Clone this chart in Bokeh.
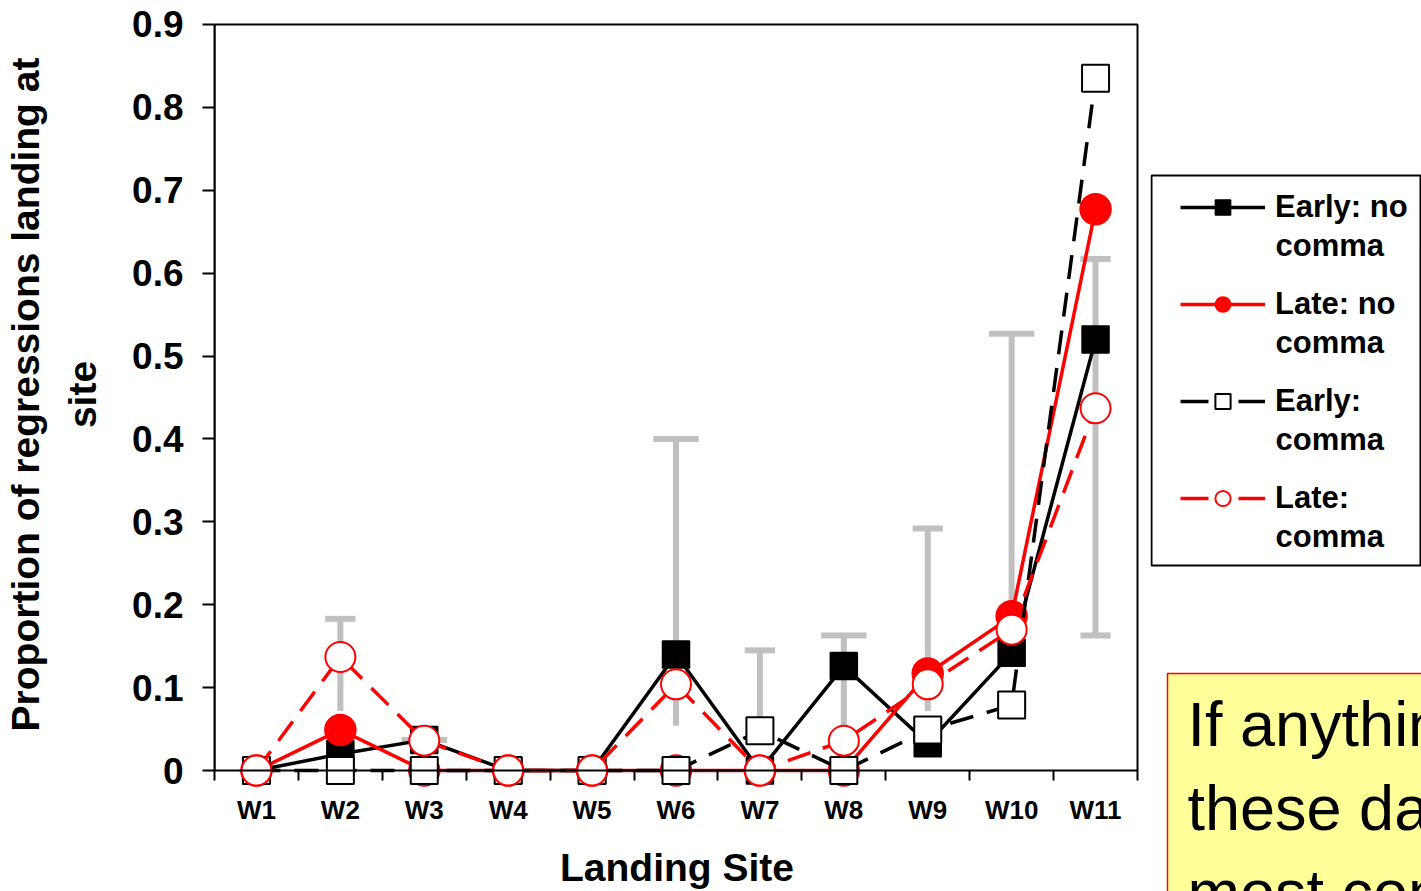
from bokeh.plotting import figure
from bokeh.layouts import row
from bokeh.models import (Range1d, FixedTicker, Legend, LegendItem, Label, BoxAnnotation)
from bokeh.embed import file_html
from bokeh.resources import INLINE

# ---------------- data ----------------
sites = ["W1", "W2", "W3", "W4", "W5", "W6", "W7", "W8", "W9", "W10", "W11"]
early_no_comma = [0.0, 0.020, 0.037, 0.0, 0.0, 0.140, 0.0, 0.126, 0.033, 0.142, 0.520]
late_no_comma = [0.0, 0.049, 0.0, 0.0, 0.0, 0.0, 0.0, 0.0, 0.117, 0.186, 0.677]
early_comma = [0.0, 0.0, 0.0, 0.0, 0.0, 0.0, 0.048, 0.0, 0.049, 0.079, 0.835]
late_comma = [0.0, 0.137, 0.036, 0.0, 0.0, 0.104, 0.0, 0.036, 0.104, 0.170, 0.437]

err_sites = ["W2", "W3", "W6", "W7", "W8", "W9", "W10", "W11"]
err_low = [0.072, 0.030, 0.054, 0.050, 0.054, 0.072, 0.150, 0.163]
err_high = [0.183, 0.037, 0.400, 0.145, 0.163, 0.292, 0.527, 0.617]
err_cap_kind = ["narrow", "wide", "wide", "narrow", "wide", "narrow", "wide", "narrow"]
err_low_cap = [False, False, False, False, False, False, False, True]

y_ticks = [0, 0.1, 0.2, 0.3, 0.4, 0.5, 0.6, 0.7, 0.8, 0.9]
y_tick_labels = ["0", "0.1", "0.2", "0.3", "0.4", "0.5", "0.6", "0.7", "0.8", "0.9"]

legend_labels = ["Early: no\ncomma", "Late: no\ncomma", "Early:\ncomma", "Late:\ncomma"]
x_title = "Landing Site"
y_title = "Proportion of regressions landing at\nsite"
note_text = "If anything\nthese data\nmost con"

FONT = "Liberation Sans"
RED = "#FF0000"
GRAY = "#C0C0C0"
x = list(range(1, len(sites) + 1))
n = len(sites)

# ---------------- main chart ----------------
PX_X = 84.09     # pixels per category
PX_Y = 832.2     # pixels per unit of proportion
p = figure(width=1150, height=891,
           x_range=Range1d(0.5, n + 0.5 + 2 / PX_X),
           y_range=Range1d(-18 / PX_Y, 0.9 + 24 / PX_Y),
           output_backend="svg", toolbar_location=None,
           min_border_left=212, min_border_right=11,
           min_border_top=0, min_border_bottom=100)
p.frame_align = False
p.outline_line_color = None
p.xgrid.visible = False
p.ygrid.visible = False
p.background_fill_color = "white"
p.border_fill_color = "white"

# plot-area border
p.add_layout(BoxAnnotation(left=0.5, right=n + 0.5, bottom=0, top=0.9,
                           fill_color=None, fill_alpha=0.0,
                           line_color="black", line_alpha=1.0, line_width=2))

# error bars
ex = [sites.index(s) + 1 for s in err_sites]
half = {"narrow": 0.18, "wide": 0.27}
hw = [half[k] for k in err_cap_kind]
p.segment(ex, err_low, ex, err_high, line_color=GRAY, line_width=6)
p.segment([a - h for a, h in zip(ex, hw)], err_high, [a + h for a, h in zip(ex, hw)], err_high,
          line_color=GRAY, line_width=6)
lc = [i for i, f in enumerate(err_low_cap) if f]
p.segment([ex[i] - hw[i] for i in lc], [err_low[i] for i in lc],
          [ex[i] + hw[i] for i in lc], [err_low[i] for i in lc],
          line_color=GRAY, line_width=6)

# series styles (draw order: early no comma, late no comma, early comma, late comma)
styles = [
    dict(y=early_no_comma, line=dict(line_color="black", line_width=3.5),
         mark=dict(marker="square", size=27, fill_color="black", line_color="black", line_width=1.5)),
    dict(y=late_no_comma, line=dict(line_color=RED, line_width=3.5),
         mark=dict(marker="circle", size=31, fill_color=RED, line_color=RED, line_width=1.5)),
    dict(y=early_comma, line=dict(line_color="black", line_width=3.5, line_dash="24 14"),
         mark=dict(marker="square", size=27, fill_color="white", line_color="black", line_width=2)),
    dict(y=late_comma, line=dict(line_color=RED, line_width=3.5, line_dash="24 13"),
         mark=dict(marker="circle", size=30, fill_color="white", line_color=RED, line_width=2)),
]
for s in styles:
    p.line(x, s["y"], **s["line"])
    p.scatter(x, s["y"], **s["mark"])

# x axis (axis line drawn by the plot-area border)
xa = p.xaxis[0]
xa.ticker = FixedTicker(ticks=x, minor_ticks=[i + 0.5 for i in range(n + 1)])
xa.major_label_overrides = {i + 1: s for i, s in enumerate(sites)}
xa.axis_line_color = None
xa.major_tick_out = 0
xa.major_tick_in = 0
xa.minor_tick_in = 18
xa.minor_tick_out = -8
xa.minor_tick_line_color = "black"
xa.minor_tick_line_width = 2
xa.major_label_standoff = 6
xa.major_label_text_font = FONT
xa.major_label_text_font_style = "bold"
xa.major_label_text_font_size = "26px"
xa.major_label_text_color = "black"
xa.axis_label = x_title
xa.axis_label_text_font = FONT
xa.axis_label_text_font_style = "bold"
xa.axis_label_text_font_size = "39px"
xa.axis_label_text_color = "black"
xa.axis_label_standoff = 18

ya = p.yaxis[0]
ya.bounds = (0, 0.9)
ya.ticker = FixedTicker(ticks=y_ticks, minor_ticks=[])
ya.major_label_overrides = {t: s for t, s in zip(y_ticks, y_tick_labels)}
ya.major_tick_out = 12
ya.major_tick_in = 0
ya.major_tick_line_width = 2
ya.minor_tick_line_color = None
ya.axis_line_color = "black"
ya.axis_line_width = 2
ya.major_label_standoff = 19
ya.major_label_text_font = FONT
ya.major_label_text_font_style = "bold"
ya.major_label_text_font_size = "37px"
ya.major_label_text_color = "black"
ya.axis_label = y_title
ya.axis_label_text_font = FONT
ya.axis_label_text_font_style = "bold"
ya.axis_label_text_font_size = "39px"
ya.axis_label_text_color = "black"
ya.axis_label_text_line_height = 1.33
ya.axis_label_standoff = 25

# ---------------- side panel: legend + note ----------------
SW, SH = 271, 891
q = figure(width=SW, height=SH, x_range=Range1d(0, SW), y_range=Range1d(SH, 0),
           output_backend="svg", toolbar_location=None,
           x_axis_location=None, y_axis_location=None,
           min_border_left=0, min_border_right=0, min_border_top=0, min_border_bottom=0)
q.frame_align = False
q.outline_line_color = None
q.xgrid.visible = False
q.ygrid.visible = False
q.background_fill_color = "white"
q.border_fill_color = "white"

# legend frame
LEG_TOP, LEG_BOTTOM = 175, 565
q.add_layout(BoxAnnotation(left=1, right=SW - 1, top=LEG_TOP, bottom=LEG_BOTTOM,
                           fill_color="white", fill_alpha=1.0,
                           line_color="black", line_alpha=1.0, line_width=2))

ITEM_H, ITEM_PITCH, FIRST_C = 38, 97, 207
items = []
for lab, s in zip(legend_labels, styles):
    first = lab.split("\n")[0]
    ln = dict(s["line"])
    if "line_dash" in ln:
        ln["line_dash"] = "28 30"      # legend sample: short stroke on each side of the marker
    r_line = q.line(x, s["y"], visible=False, **ln)
    mk = dict(s["mark"])
    mk["size"] = 19
    r_mark = q.scatter(x, s["y"], visible=False, **mk)
    items.append(LegendItem(label=first, renderers=[r_line, r_mark]))

leg_h = len(items) * ITEM_H + (len(items) - 1) * (ITEM_PITCH - ITEM_H)
leg_top = FIRST_C - ITEM_H / 2
legend = Legend(items=items, location=(30, int(round(SH - (leg_top + leg_h)))),
                orientation="vertical",
                padding=0, margin=0, spacing=ITEM_PITCH - ITEM_H,
                glyph_width=85, glyph_height=ITEM_H, label_height=ITEM_H,
                label_standoff=10, label_text_font=FONT, label_text_font_style="bold",
                label_text_font_size="31px", label_text_color="black",
                label_text_baseline="middle",
                border_line_color=None, background_fill_alpha=0.0,
                inactive_fill_alpha=0.0)
q.add_layout(legend)

# second lines of the legend labels
for i, lab in enumerate(legend_labels):
    for j, part in enumerate(lab.split("\n")[1:], start=1):
        q.add_layout(Label(x=125, y=FIRST_C + i * ITEM_PITCH + j * ITEM_H, text=part,
                           text_align="left", text_baseline="middle",
                           text_font=FONT, text_font_style="bold",
                           text_font_size="31px", text_color="black"))

# note box
q.add_layout(BoxAnnotation(left=17, right=SW + 20, top=673, bottom=SH + 20,
                           fill_color="#FFFF99", fill_alpha=1.0,
                           line_color=RED, line_alpha=1.0, line_width=1.5))
q.add_layout(Label(x=37, y=688, text=note_text, text_align="left", text_baseline="top",
                   text_font=FONT, text_font_size="63px", text_color="black",
                   text_line_height=1.2))

layout = row(p, q)
open("out.html", "w").write(file_html(layout, INLINE))
